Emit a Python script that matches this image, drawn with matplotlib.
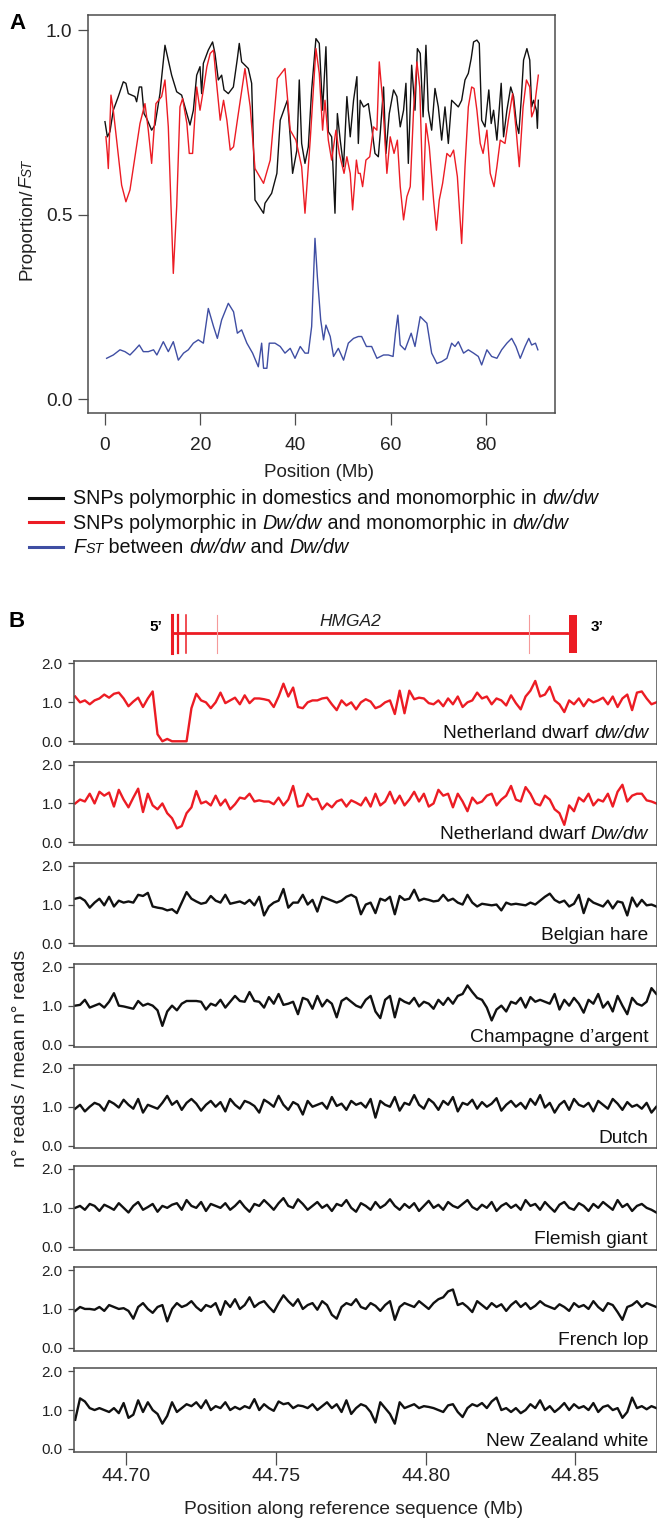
import numpy as np
import matplotlib
matplotlib.use("Agg")
import matplotlib.pyplot as plt
from matplotlib.lines import Line2D
from matplotlib.transforms import IdentityTransform

plt.rcParams['font.family'] = ['Liberation Sans', 'DejaVu Sans']

# ---------------- Panel A: genome scan (position in Mb) ----------------
black_pos = [0.0, 0.5, 1.05, 1.75, 2.8, 3.85, 4.4, 4.9, 6.3, 6.65,
             7.2, 7.7, 8.2, 8.75, 9.8, 10.5, 11.55, 12.6, 13.3, 14.0,
             15.06, 16.1, 16.8, 17.86, 18.56, 19.26, 19.96, 20.3, 20.66, 21.7,
             22.6, 23.1, 23.8, 24.5, 25.0, 25.9, 26.96, 27.8, 28.2, 28.7,
             30.1, 30.8, 31.5, 33.3, 33.6, 35.0, 36.1, 36.8, 38.3, 38.9,
             39.4, 40.3, 40.8, 41.3, 42.0, 42.7, 43.4, 44.3, 45.0, 45.7,
             46.4, 46.9, 47.6, 48.3, 48.8, 49.4, 50.1, 50.8, 51.5, 52.2,
             52.9, 53.2, 53.6, 54.3, 55.3, 56.0, 56.7, 57.4, 57.8, 58.5,
             59.0, 59.7, 60.6, 61.3, 62.0, 62.7, 63.2, 63.7, 64.4, 65.1,
             65.6, 66.2, 66.8, 67.4, 67.9, 68.6, 69.3, 70.0, 70.7, 71.4,
             72.1, 72.8, 73.5, 74.2, 74.9, 75.6, 76.3, 76.9, 77.4, 78.1,
             78.6, 79.1, 79.8, 80.6, 81.1, 81.6, 82.3, 83.2, 83.7, 84.4,
             85.2, 85.8, 86.4, 86.9, 87.4, 87.9, 88.6, 89.2, 89.6, 90.0,
             90.6, 90.8, 91.0]
black_val = [0.752, 0.711, 0.725, 0.783, 0.820, 0.860, 0.856, 0.828, 0.820, 0.806,
             0.846, 0.846, 0.774, 0.761, 0.729, 0.743, 0.828, 0.959, 0.919, 0.878,
             0.833, 0.824, 0.792, 0.743, 0.783, 0.878, 0.901, 0.828, 0.910, 0.946,
             0.968, 0.937, 0.865, 0.878, 0.838, 0.828, 0.846, 0.923, 0.964, 0.914,
             0.896, 0.856, 0.540, 0.504, 0.531, 0.558, 0.612, 0.756, 0.810, 0.711,
             0.612, 0.675, 0.865, 0.693, 0.639, 0.684, 0.838, 0.977, 0.964, 0.783,
             0.955, 0.725, 0.711, 0.504, 0.774, 0.702, 0.630, 0.820, 0.711, 0.810,
             0.874, 0.693, 0.810, 0.792, 0.801, 0.738, 0.666, 0.657, 0.720, 0.846,
             0.666, 0.774, 0.838, 0.820, 0.738, 0.783, 0.856, 0.639, 0.905, 0.783,
             0.950, 0.937, 0.765, 0.959, 0.783, 0.729, 0.842, 0.792, 0.702, 0.792,
             0.693, 0.810, 0.801, 0.792, 0.810, 0.865, 0.883, 0.923, 0.968, 0.973,
             0.964, 0.756, 0.738, 0.838, 0.747, 0.783, 0.702, 0.856, 0.711, 0.783,
             0.846, 0.820, 0.747, 0.720, 0.810, 0.919, 0.950, 0.919, 0.792, 0.810,
             0.783, 0.734, 0.810]

red_pos = [0.2, 0.5, 0.7, 1.26, 1.75, 2.45, 3.5, 4.4, 5.25, 6.3,
           7.35, 8.4, 9.1, 9.8, 10.7, 11.9, 12.6, 13.3, 14.35, 15.06,
           15.75, 16.3, 17.2, 17.7, 18.4, 19.26, 19.96, 20.66, 21.4, 22.1,
           22.8, 23.3, 24.2, 24.9, 25.6, 26.3, 27.0, 27.8, 29.4, 30.5,
           31.5, 33.3, 34.7, 36.2, 37.8, 38.9, 40.1, 41.3, 42.0, 43.1,
           44.3, 45.0, 45.7, 46.2, 46.9, 47.6, 48.5, 49.2, 49.7, 50.2,
           50.8, 51.5, 52.0, 52.8, 53.2, 53.6, 54.1, 54.8, 55.6, 56.4,
           57.1, 57.6, 58.3, 59.2, 59.9, 60.7, 61.4, 62.0, 62.7, 63.4,
           64.1, 64.8, 65.5, 66.1, 66.8, 67.4, 68.1, 69.0, 69.6, 70.2,
           70.9, 71.8, 72.5, 73.2, 74.0, 74.9, 75.6, 76.3, 77.0, 77.5,
           78.1, 78.8, 79.4, 80.2, 80.9, 81.7, 82.3, 83.0, 84.0, 84.7,
           85.6, 86.4, 87.0, 87.8, 88.5, 89.2, 89.6, 90.1, 91.0]
red_val = [0.711, 0.666, 0.625, 0.824, 0.783, 0.702, 0.580, 0.535, 0.567, 0.657,
           0.747, 0.801, 0.729, 0.639, 0.801, 0.820, 0.865, 0.738, 0.341, 0.522,
           0.792, 0.815, 0.747, 0.666, 0.666, 0.846, 0.783, 0.838, 0.901, 0.937,
           0.946, 0.874, 0.756, 0.810, 0.756, 0.675, 0.684, 0.756, 0.896, 0.792,
           0.625, 0.585, 0.648, 0.869, 0.896, 0.729, 0.702, 0.630, 0.504, 0.702,
           0.950, 0.883, 0.729, 0.810, 0.702, 0.648, 0.729, 0.666, 0.639, 0.612,
           0.657, 0.612, 0.513, 0.648, 0.612, 0.612, 0.576, 0.648, 0.657, 0.738,
           0.729, 0.914, 0.810, 0.612, 0.711, 0.666, 0.702, 0.576, 0.486, 0.549,
           0.576, 0.783, 0.914, 0.846, 0.540, 0.747, 0.684, 0.540, 0.458, 0.540,
           0.585, 0.666, 0.657, 0.675, 0.603, 0.422, 0.630, 0.792, 0.846, 0.842,
           0.783, 0.693, 0.666, 0.729, 0.612, 0.576, 0.630, 0.702, 0.693, 0.756,
           0.828, 0.720, 0.630, 0.792, 0.865, 0.846, 0.765, 0.783, 0.878]

fst_pos = [0.35, 1.75, 3.15, 4.2, 5.25, 6.3, 7.2, 8.05, 9.1, 10.2,
           10.9, 12.25, 13.3, 14.35, 15.4, 16.5, 17.5, 18.56, 19.6, 20.66,
           21.7, 22.8, 23.6, 24.5, 25.9, 27.0, 27.8, 28.7, 29.8, 31.0,
           32.2, 32.9, 33.3, 34.0, 34.5, 35.7, 36.8, 37.8, 38.9, 39.9,
           41.0, 42.0, 42.7, 43.4, 44.1, 44.6, 45.3, 45.9, 46.4, 47.3,
           48.0, 49.0, 50.1, 51.1, 52.2, 53.2, 53.9, 54.9, 56.0, 57.1,
           58.5, 59.5, 60.5, 61.0, 61.5, 62.0, 63.0, 64.3, 65.1, 66.2,
           66.9, 67.6, 68.6, 69.7, 70.7, 71.8, 72.8, 73.5, 74.2, 75.3,
           76.3, 77.4, 78.4, 79.1, 80.2, 81.2, 82.3, 83.3, 84.4, 85.4,
           86.3, 87.2, 88.2, 89.0, 89.6, 90.4, 90.9]
fst_val = [0.111, 0.120, 0.134, 0.129, 0.120, 0.134, 0.147, 0.129, 0.129, 0.134,
           0.120, 0.156, 0.129, 0.156, 0.106, 0.125, 0.134, 0.152, 0.161, 0.152,
           0.246, 0.197, 0.165, 0.215, 0.260, 0.237, 0.179, 0.188, 0.152, 0.125,
           0.088, 0.152, 0.084, 0.084, 0.152, 0.152, 0.143, 0.125, 0.138, 0.111,
           0.143, 0.125, 0.125, 0.197, 0.436, 0.332, 0.215, 0.161, 0.201, 0.170,
           0.116, 0.138, 0.106, 0.152, 0.165, 0.170, 0.170, 0.143, 0.143, 0.111,
           0.120, 0.120, 0.116, 0.179, 0.228, 0.147, 0.134, 0.179, 0.143, 0.224,
           0.215, 0.206, 0.125, 0.097, 0.102, 0.111, 0.152, 0.143, 0.156, 0.125,
           0.134, 0.125, 0.116, 0.093, 0.134, 0.116, 0.111, 0.134, 0.152, 0.165,
           0.143, 0.111, 0.143, 0.165, 0.147, 0.152, 0.134]

# ---------------- Panel B: HMGA2 gene model and read depth ----------------
gene_start, gene_end = 44.7152, 44.8478
exon_pos = [44.7152, 44.7172, 44.7200, 44.7305, 44.8345]
utr3_start, utr3_end = 44.8478, 44.8506

window_start = 44.6830   # first window (Mb)
window_step = 0.001617   # window size (Mb)

nd_dwdw = [1.15, 1.00, 1.05, 0.95, 1.05, 1.10, 1.20, 1.12, 1.22, 1.25,
           1.10, 0.90, 1.02, 1.12, 0.88, 1.10, 1.28, 0.18, 0.00, 0.06,
           0.00, 0.00, 0.00, 0.00, 0.85, 1.22, 1.05, 1.00, 0.85, 1.00,
           1.25, 0.98, 1.05, 1.12, 0.95, 1.18, 0.98, 1.10, 1.10, 1.08,
           1.05, 0.88, 1.15, 1.48, 1.15, 1.38, 0.88, 0.85, 1.00, 1.05,
           1.05, 1.10, 1.12, 0.95, 0.80, 1.05, 0.92, 1.00, 0.82, 1.00,
           1.08, 1.02, 0.85, 0.90, 1.00, 1.05, 0.70, 1.30, 0.72, 1.30,
           1.08, 1.12, 1.10, 0.98, 0.95, 1.05, 0.90, 1.10, 0.95, 1.15,
           0.88, 1.00, 1.05, 1.25, 1.10, 1.15, 0.95, 1.10, 1.05, 0.92,
           1.18, 0.98, 0.82, 1.15, 1.30, 1.55, 1.15, 1.20, 1.40, 1.05,
           0.95, 0.75, 1.05, 0.95, 1.10, 0.90, 1.08, 1.00, 1.05, 1.12,
           0.95, 1.15, 0.88, 1.10, 1.20, 0.80, 1.25, 1.28, 1.10, 0.95,
           1.00]
nd_Dwdw = [1.00, 1.10, 1.05, 1.25, 1.00, 1.30, 1.20, 1.28, 0.92, 1.35,
           1.10, 0.90, 1.15, 1.38, 0.78, 1.25, 0.95, 0.85, 1.00, 0.75,
           0.62, 0.36, 0.42, 0.75, 0.90, 1.32, 1.00, 1.05, 0.95, 1.20,
           0.95, 1.10, 0.85, 0.98, 1.15, 1.12, 1.25, 1.05, 1.08, 1.05,
           1.05, 0.98, 1.15, 0.95, 1.10, 1.45, 0.92, 0.95, 1.25, 1.10,
           1.12, 0.85, 1.00, 0.90, 1.05, 1.10, 0.92, 1.08, 1.02, 0.95,
           1.15, 0.92, 1.25, 0.95, 1.05, 1.30, 1.00, 1.20, 0.95, 1.10,
           1.30, 1.05, 1.25, 0.92, 1.00, 1.35, 1.20, 1.25, 0.90, 1.25,
           1.05, 0.80, 1.15, 1.00, 1.05, 1.20, 1.25, 0.95, 1.10, 1.20,
           1.45, 1.10, 1.05, 1.42, 1.25, 1.00, 0.95, 1.20, 1.10, 0.85,
           0.75, 0.45, 0.95, 0.80, 1.15, 1.05, 1.25, 0.95, 1.10, 1.05,
           1.25, 0.92, 1.30, 1.48, 1.05, 1.20, 1.25, 1.25, 1.08, 1.05,
           1.00]
belgian_hare = [1.15, 1.18, 1.10, 0.92, 1.05, 1.15, 0.98, 1.20, 0.95, 1.10,
                1.05, 1.08, 1.05, 1.25, 1.22, 1.30, 0.95, 0.92, 0.90, 0.85,
                0.88, 0.78, 1.05, 1.32, 1.15, 1.08, 1.02, 1.05, 1.22, 1.10,
                1.05, 1.25, 1.02, 1.05, 1.08, 1.02, 1.12, 0.98, 1.20, 0.72,
                0.95, 1.05, 1.10, 1.40, 0.92, 1.05, 1.05, 1.25, 1.00, 1.12,
                0.82, 1.20, 1.15, 1.10, 1.05, 1.10, 1.20, 1.25, 1.18, 0.75,
                1.00, 1.05, 0.78, 1.15, 1.10, 1.20, 0.75, 1.22, 1.12, 1.15,
                1.38, 1.10, 1.15, 1.12, 1.08, 1.10, 1.25, 1.10, 1.15, 1.05,
                1.00, 1.25, 1.05, 0.95, 1.02, 1.00, 0.98, 1.00, 0.85, 1.05,
                1.00, 1.02, 1.00, 0.98, 1.05, 1.00, 1.10, 1.20, 1.28, 1.12,
                1.05, 1.10, 0.95, 1.02, 1.25, 0.78, 1.15, 1.05, 1.00, 0.95,
                1.10, 0.90, 1.08, 1.05, 0.72, 1.18, 0.95, 1.12, 0.98, 1.00,
                0.95]
champagne = [1.00, 1.02, 1.15, 0.95, 1.00, 1.05, 0.95, 1.10, 1.32, 1.00,
             0.98, 0.95, 0.92, 1.12, 1.00, 1.05, 1.00, 0.88, 0.48, 0.85,
             1.00, 0.88, 1.05, 1.12, 1.12, 1.12, 1.10, 0.90, 1.05, 1.00,
             1.15, 0.95, 1.10, 1.25, 1.12, 1.10, 1.35, 1.12, 1.10, 0.95,
             1.22, 1.05, 1.30, 1.02, 1.05, 1.10, 0.78, 1.20, 1.15, 0.92,
             1.25, 0.98, 1.15, 1.05, 0.70, 1.12, 1.20, 1.10, 1.00, 0.95,
             1.15, 1.25, 0.85, 0.68, 1.15, 1.25, 0.70, 1.18, 1.10, 1.05,
             1.20, 0.98, 1.10, 1.05, 0.92, 1.15, 1.02, 1.20, 1.05, 1.25,
             1.30, 1.52, 1.35, 1.20, 1.15, 0.95, 0.62, 0.90, 1.00, 0.85,
             1.10, 1.05, 1.20, 0.95, 1.22, 1.10, 1.15, 1.10, 1.05, 1.30,
             0.90, 1.15, 1.00, 1.20, 1.05, 0.82, 1.15, 1.05, 1.30, 0.95,
             1.10, 0.85, 1.25, 1.00, 0.78, 1.20, 1.05, 1.00, 1.10, 1.45,
             1.30]
dutch = [0.95, 1.05, 0.88, 1.00, 1.10, 1.05, 0.90, 1.15, 1.08, 0.98,
         1.18, 1.05, 0.95, 1.20, 0.85, 1.05, 1.00, 0.95, 1.10, 1.28,
         1.05, 1.15, 0.92, 1.10, 1.20, 1.08, 0.90, 1.05, 1.15, 1.00,
         1.12, 0.88, 1.20, 1.05, 0.95, 1.15, 1.10, 1.02, 0.85, 1.18,
         1.10, 1.00, 1.28, 1.05, 0.92, 1.12, 1.05, 0.80, 1.15, 1.00,
         1.05, 1.10, 0.95, 1.25, 1.02, 1.08, 0.92, 1.15, 1.05, 1.10,
         0.98, 1.20, 0.72, 1.15, 1.05, 1.00, 1.25, 0.90, 1.10, 1.05,
         1.30, 1.05, 0.95, 1.20, 1.10, 0.92, 1.15, 1.05, 1.25, 0.88,
         1.10, 1.05, 1.18, 0.95, 1.12, 1.00, 1.08, 1.22, 0.90, 1.05,
         1.15, 1.00, 1.10, 0.95, 1.20, 1.05, 1.30, 0.98, 1.10, 0.85,
         1.05, 1.15, 0.92, 1.20, 1.05, 1.00, 1.10, 0.88, 1.15, 1.05,
         0.95, 1.20, 1.08, 0.92, 1.12, 1.00, 1.05, 0.95, 1.10, 0.85,
         1.00]
flemish_giant = [1.00, 1.05, 0.95, 1.10, 1.05, 0.92, 1.08, 1.02, 0.95, 1.12,
                 1.00, 0.88, 1.05, 1.15, 0.95, 1.02, 1.10, 0.90, 1.05, 1.00,
                 1.08, 1.12, 0.95, 1.20, 1.05, 1.00, 1.15, 0.92, 1.10, 1.05,
                 1.00, 1.12, 0.95, 1.05, 1.18, 1.02, 0.90, 1.10, 1.05, 1.20,
                 1.08, 0.95, 1.12, 1.25, 1.05, 1.00, 1.22, 1.10, 0.95, 1.05,
                 1.15, 1.00, 1.08, 0.92, 1.10, 1.05, 1.20, 1.00, 0.90, 1.12,
                 1.05, 0.95, 1.15, 1.00, 1.08, 1.22, 1.05, 0.95, 1.10, 1.00,
                 1.12, 0.92, 1.05, 1.18, 1.00, 1.08, 0.95, 1.15, 1.05, 1.00,
                 1.10, 1.20, 1.02, 0.95, 1.08, 1.00, 1.15, 0.92, 1.05, 1.12,
                 1.00, 1.08, 0.95, 1.20, 1.05, 1.10, 0.95, 1.15, 1.02, 0.90,
                 1.08, 1.15, 1.00, 0.95, 1.12, 1.05, 0.92, 1.10, 1.00, 1.15,
                 1.05, 0.95, 1.20, 1.02, 1.10, 0.92, 1.05, 1.10, 1.00, 0.95,
                 0.88]
french_lop = [0.95, 1.05, 1.00, 1.00, 0.98, 1.05, 0.95, 1.10, 1.05, 1.00,
              1.02, 0.95, 0.75, 1.05, 1.15, 1.00, 0.90, 1.05, 1.10, 0.68,
              1.00, 1.15, 1.05, 1.10, 1.20, 1.05, 0.95, 1.10, 1.05, 1.15,
              0.85, 1.20, 1.05, 1.25, 1.00, 1.10, 1.30, 1.05, 1.15, 1.20,
              1.05, 0.92, 1.15, 1.35, 1.20, 1.08, 1.25, 1.00, 1.10, 1.15,
              0.98, 1.20, 1.10, 0.85, 0.75, 1.05, 1.15, 1.10, 1.25, 1.05,
              1.00, 1.15, 1.08, 0.95, 1.10, 1.20, 0.72, 1.05, 1.15, 1.10,
              1.05, 1.20, 1.10, 1.00, 1.15, 1.25, 1.30, 1.45, 1.50, 1.10,
              1.15, 1.05, 0.92, 1.20, 1.10, 1.00, 1.15, 1.05, 1.12, 0.95,
              1.10, 1.20, 1.05, 1.15, 1.00, 1.08, 1.20, 1.10, 1.05, 1.00,
              1.12, 1.05, 0.95, 1.15, 1.05, 1.10, 1.00, 1.20, 1.05, 0.95,
              1.15, 1.10, 0.92, 0.72, 1.05, 1.10, 1.20, 1.05, 1.15, 1.10,
              1.05]
nz_white = [0.75, 1.30, 1.22, 1.05, 1.00, 1.05, 1.00, 0.95, 1.05, 0.92,
            1.18, 0.80, 0.88, 1.25, 0.95, 1.20, 1.00, 0.90, 0.65, 0.85,
            1.20, 0.95, 1.05, 1.15, 1.10, 1.20, 1.05, 1.25, 1.00, 1.10,
            1.05, 1.20, 1.00, 1.08, 1.02, 1.10, 1.05, 1.28, 1.00, 1.15,
            1.05, 0.98, 1.22, 1.15, 1.18, 1.05, 1.12, 1.10, 1.05, 1.15,
            1.00, 1.10, 1.20, 1.05, 1.15, 0.95, 1.25, 0.90, 1.05, 1.15,
            1.10, 0.95, 0.68, 1.20, 1.05, 0.90, 0.65, 1.20, 1.05, 1.10,
            1.15, 1.05, 1.10, 1.08, 1.05, 1.00, 0.95, 1.12, 1.15, 0.95,
            0.82, 1.05, 1.15, 1.10, 1.18, 1.05, 1.22, 1.32, 1.00, 1.05,
            0.95, 1.05, 0.92, 1.00, 1.15, 1.05, 1.25, 1.00, 1.10, 0.95,
            1.05, 1.18, 1.00, 1.15, 1.05, 1.10, 1.00, 1.18, 0.95, 1.08,
            1.12, 1.00, 1.05, 0.80, 0.95, 1.32, 1.05, 1.10, 1.02, 1.10,
            1.05]

RED = '#ec1c24'
BLACK = '#111111'
BLUE = '#3f4ea3'
FRAME = '#4d4d4d'

tracks = [
    (nd_dwdw, [("Netherland dwarf ", False), ("dw/dw", True)], RED),
    (nd_Dwdw, [("Netherland dwarf ", False), ("Dw/dw", True)], RED),
    (belgian_hare, [("Belgian hare", False)], BLACK),
    (champagne, [("Champagne d\u2019argent", False)], BLACK),
    (dutch, [("Dutch", False)], BLACK),
    (flemish_giant, [("Flemish giant", False)], BLACK),
    (french_lop, [("French lop", False)], BLACK),
    (nz_white, [("New Zealand white", False)], BLACK),
]

# ---------------- figure helpers (pixel layout, origin top-left) ----------------
W, H = 657, 1519
fig = plt.figure(figsize=(W / 100, H / 100), dpi=100)
renderer = fig.canvas.get_renderer()
PX = IdentityTransform()


def axes_px(left, top, right, bottom):
    return fig.add_axes([left / W, 1 - bottom / H, (right - left) / W, (bottom - top) / H])


def advance(s, size, italic):
    st = 'italic' if italic else 'normal'
    a = fig.text(0, 0, '|' + s + '|', transform=PX, fontsize=size, style=st)
    b = fig.text(0, 0, '||', transform=PX, fontsize=size, style=st)
    w = a.get_window_extent(renderer).width - b.get_window_extent(renderer).width
    a.remove()
    b.remove()
    return w


def rich_text(x, y, pieces, size, ha='left', vertical=False, color='#111111'):
    # pieces: (text, italic[, relative size]); x, y are pixels from top-left
    pieces = [(p[0], p[1], p[2] if len(p) > 2 else 1.0) for p in pieces]
    widths = [advance(s, size * r, it) for s, it, r in pieces]
    total = sum(widths)
    X, Y = x, H - y
    if vertical:
        pos = Y - total / 2
    else:
        pos = {'left': X, 'center': X - total / 2, 'right': X - total}[ha]
    for (s, it, r), w in zip(pieces, widths):
        kw = dict(transform=PX, fontsize=size * r, style='italic' if it else 'normal',
                  color=color, ha='left', va='baseline')
        if vertical:
            fig.text(X, pos, s, rotation=90, rotation_mode='anchor', **kw)
        else:
            fig.text(pos, Y, s, **kw)
        pos += w


def frame(ax):
    for sp in ax.spines.values():
        sp.set_color(FRAME)
        sp.set_linewidth(1.1)


# ---------------- Panel A ----------------
axA = axes_px(88.3, 15, 555, 413.3)
axA.plot(black_pos, black_val, color=BLACK, lw=1.0)
axA.plot(red_pos, red_val, color=RED, lw=1.0)
axA.plot(fst_pos, fst_val, color=BLUE, lw=1.0)
axA.set_xlim(-3.5, 94.5)
axA.set_ylim(-0.038, 1.041)
axA.set_xticks([0, 20, 40, 60, 80])
axA.set_yticks([0.0, 0.5, 1.0])
axA.set_yticklabels(['0.0', '0.5', '1.0'])
frame(axA)
axA.tick_params(colors=FRAME, labelcolor='#222222', labelsize=13.8, width=0.9)
axA.tick_params(axis='x', length=8.6, pad=8.5)
axA.tick_params(axis='y', length=7.2, pad=4.3)

fig.text(9.3, H - 29.3, 'A', transform=PX, fontsize=16, fontweight='bold', va='baseline')
fig.text(319.5, H - 477.3, 'Position (Mb)', transform=PX, fontsize=13.5, ha='center',
         va='baseline', color='#222222')
rich_text(31.5, 219.5, [("Proportion/", False), ("F", True), ("ST", True, 0.72)],
          13.5, vertical=True, color='#222222')

legend_rows = [
    (BLACK, [("SNPs polymorphic in domestics and monomorphic in ", False), ("dw/dw", True)]),
    (RED, [("SNPs polymorphic in ", False), ("Dw/dw", True),
           (" and monomorphic in ", False), ("dw/dw", True)]),
    (BLUE, [("F", True), ("ST", True, 0.72), (" between ", False), ("dw/dw", True),
            (" and ", False), ("Dw/dw", True)]),
]
for k, (col, pieces) in enumerate(legend_rows):
    base = 504 + k * 24.6
    fig.add_artist(Line2D([29, 63], [H - base + 6.5] * 2, transform=PX, color=col, lw=2.2))
    rich_text(73, base, pieces, 14.2)

# ---------------- Panel B ----------------
fig.text(8.3, H - 627.3, 'B', transform=PX, fontsize=16, fontweight='bold', va='baseline')

xlim_b = (44.6826, 44.8771)
axG = axes_px(74, 605, 656.5, 660)
axG.set_xlim(*xlim_b)
axG.set_ylim(0, 1)
axG.axis('off')
axG.hlines(0.485, gene_start, gene_end, color=RED, lw=2.0)
exon_lw = [2.2, 1.6, 1.1, 0.8, 0.8]
exon_col = [RED, RED, RED, '#f59a9a', '#f59a9a']
for xp, lw, c in zip(exon_pos, exon_lw, exon_col):
    axG.axvline(xp, 0.127, 0.818, color=c, lw=lw)
axG.axvspan(utr3_start, utr3_end, 0.127, 0.818, color=RED, lw=0)

fig.text(156, H - 630.7, '5\u2019', transform=PX, fontsize=11, fontweight='bold',
         ha='center', va='baseline')
fig.text(590.3, H - 630.7, '3\u2019', transform=PX, fontsize=11, fontweight='bold',
         ha='left', va='baseline')
fig.text(350, H - 626, 'HMGA2', transform=PX, fontsize=12.5, style='italic',
         ha='center', va='baseline', color='#222222')

window_pos = window_start + window_step * np.arange(len(nd_dwdw))
track_top0, track_h, track_gap = 660.7, 83.3, 101.1
for k, (vals, label, col) in enumerate(tracks):
    top = track_top0 + k * track_gap
    ax = axes_px(74, top, 656.5, top + track_h)
    ax.plot(window_pos, vals, color=col, lw=1.7)
    ax.set_xlim(*xlim_b)
    ax.set_ylim(-0.07, 2.07)
    ax.set_yticks([0, 1, 2])
    ax.set_yticklabels(['0.0', '1.0', '2.0'])
    frame(ax)
    ax.tick_params(axis='y', colors=FRAME, labelcolor='#222222', labelsize=11,
                   length=4.1, width=0.9, pad=4.0)
    if k < len(tracks) - 1:
        ax.tick_params(axis='x', bottom=False, labelbottom=False)
    else:
        ax.set_xticks([44.70, 44.75, 44.80, 44.85])
        ax.set_xticklabels(['44.70', '44.75', '44.80', '44.85'])
        ax.tick_params(axis='x', colors=FRAME, labelcolor='#222222', labelsize=14,
                       length=9.4, width=0.9, pad=2.5)
    rich_text(648, top + track_h - 5.7, label, 13.8, ha='right')

fig.text(353.5, H - 1514, 'Position along reference sequence (Mb)', transform=PX,
         fontsize=13.8, ha='center', va='baseline', color='#222222')
fig.text(25, H - 1058, 'n\u00b0 reads / mean n\u00b0 reads', transform=PX, fontsize=14,
         rotation=90, rotation_mode='anchor', ha='center', va='baseline', color='#222222')

fig.savefig('out.png', dpi=100)
